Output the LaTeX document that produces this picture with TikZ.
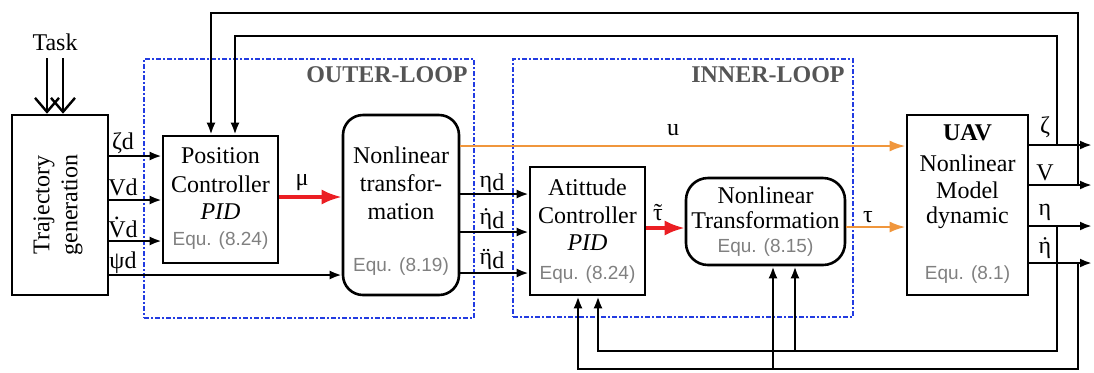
\documentclass[tikz,border=0pt]{standalone}
\usepackage{fontspec}
\setmainfont{Liberation Serif}
\newfontfamily\eqfont{Liberation Sans}
\usetikzlibrary{arrows.meta,calc}
\definecolor{myred}{RGB}{235,30,35}
\definecolor{myorange}{RGB}{240,150,60}
\definecolor{myblue}{RGB}{35,60,225}
\definecolor{lblgray}{RGB}{85,85,85}
\newcommand{\accover}[3]{\ooalign{#2\cr\hidewidth\raisebox{#3}[0pt][0pt]{#1}\hidewidth\cr}}
\begin{document}
\begin{tikzpicture}[x=0.5pt,y=-0.5pt,
  box/.style={draw, line width=1.3pt, inner sep=0pt},
  rbox/.style={box, rounded corners=10pt},
  txt/.style={inner sep=0pt, font=\rmfamily\fontsize{12}{14}\selectfont},
  eqt/.style={inner sep=0pt, font=\eqfont\fontsize{9.5}{11}\selectfont, text=gray},
  lbl/.style={inner sep=0pt, font=\rmfamily\fontsize{12}{14}\selectfont},
  looplbl/.style={inner sep=0pt, anchor=east, font=\rmfamily\bfseries\fontsize{12}{14}\selectfont, text=lblgray},
  arr/.style={line width=1.2pt, -{Latex[length=6pt,width=4.5pt]}},
  taskarr/.style={line width=1.2pt, -{Straight Barb[length=7pt,width=12pt]}},
  redarr/.style={myred, line width=1.6pt, -{Latex[length=10pt,width=7.5pt]}},
  orarr/.style={myorange, line width=1.3pt, -{Latex[length=8pt,width=5.5pt]}},
  loopbox/.style={draw=myblue, line width=1.1pt, dash pattern=on 2.5pt off 1pt on 1pt off 1pt, inner sep=0pt}
]
\useasboundingbox (0,0) rectangle (1094,372);

% loop frames
\node[loopbox, minimum width=165pt, minimum height=129.5pt] (outer) at (309,188.5) {};
\node[loopbox, minimum width=170pt, minimum height=129pt] (inner) at (683,188) {};
\node[looplbl] (outerl) at (468,75) {OUTER-LOOP};
\node[looplbl] (innerl) at (845,75) {INNER-LOOP};

% blocks
\node[box, minimum width=48pt, minimum height=90pt] (traj) at (60,205) {};
\node[txt, rotate=90, align=center] (trajt) at (58,205) {Trajectory\\generation};

\node[box, minimum width=57.5pt, minimum height=63.5pt] (pos) at (220.5,199.5) {};
\node[txt] (pos1) at (220.5,156) {Position};
\node[txt] (pos2) at (220.5,184) {Controller};
\node[txt] (pos3) at (220.5,212) {\textit{PID}};
\node[eqt] (pos4) at (220.5,241) {Equ. (8.24)};

\node[rbox, minimum width=58pt, minimum height=90pt] (nlt) at (401,205) {};
\node[txt] (nlt1) at (401,155) {Nonlinear};
\node[txt] (nlt2t) at (401,183) {transfor-};
\node[txt] (nlt3) at (401,212) {mation};
\node[eqt] (nlt4) at (401,267) {Equ. (8.19)};

\node[box, minimum width=57.5pt, minimum height=64pt] (att) at (587.5,231) {};
\node[txt] (att1) at (587.5,187) {Atittude};
\node[txt] (att2) at (587.5,215) {Controller};
\node[txt] (att3) at (587.5,243) {\textit{PID}};
\node[eqt] (att4) at (587.5,275) {Equ. (8.24)};

\node[box, rounded corners=11pt, minimum width=79.5pt, minimum height=43.5pt] (nlt2) at (765.5,221.5) {};
\node[txt] (nltb1) at (765.5,195) {Nonlinear};
\node[txt] (nltb2) at (765.5,220) {Transformation};
\node[eqt] (nltb3) at (765.5,248) {Equ. (8.15)};

\node[box, minimum width=60.5pt, minimum height=90pt] (uav) at (967.5,205) {};
\node[txt] (uav1) at (967.5,133) {\textbf{UAV}};
\node[txt] (uav2) at (967.5,163) {Nonlinear};
\node[txt] (uav3) at (967.5,190) {Model};
\node[txt] (uav4) at (967.5,218) {dynamic};
\node[eqt] (uav5) at (967.5,275) {Equ. (8.1)};

% task
\node[txt] (task) at (55,42) {Task};
\coordinate (t1) at (47,58);
\coordinate (t2) at (63,58);
\draw[taskarr] (t1) -- (t1 |- traj.north);
\draw[taskarr] (t2) -- (t2 |- traj.north);

% trajectory outputs
\draw[arr] (traj.east |- 0,156) -- (pos.west |- 0,156);
\draw[arr] (traj.east |- 0,200) -- (pos.west |- 0,200);
\draw[arr] (traj.east |- 0,241) -- (pos.west |- 0,241);
\draw[arr] (traj.east |- 0,275) -- (nlt.west |- 0,275);
\node[lbl] (lz) at (123,143) {ζd};
\node[lbl] (lv) at (123,187) {Vd};
\node[lbl] (lvd) at (123,229) {\accover{.}{V}{0.72em}d};
\node[lbl] (lp) at (123,263) {ψd};

% mu
\draw[redarr] (pos.east |- 0,197) -- (nlt.west |- 0,197);
\node[lbl] (lmu) at (302,183) {μ};

% eta_d
\draw[arr] (nlt.east |- 0,194) -- (att.west |- 0,194);
\draw[arr] (nlt.east |- 0,232) -- (att.west |- 0,232);
\draw[arr] (nlt.east |- 0,273) -- (att.west |- 0,273);
\node[lbl] (le1) at (492,183) {η\raisebox{-0.3ex}{d}};
\node[lbl] (le2) at (492,220) {\accover{˙}{η}{0pt}\raisebox{-0.3ex}{d}};
\node[lbl] (le3) at (492,260) {\accover{¨}{η}{0pt}\raisebox{-0.3ex}{d}};

% u
\draw[orarr] (nlt.east |- 0,146) -- (uav.west |- 0,146);
\node[lbl] (lu) at (673,130) {u};

% tau tilde
\draw[redarr] (att.east |- 0,228) -- (nlt2.west |- 0,228);
\node[lbl] (ltt) at (658,215) {\accover{˜}{τ}{0pt}};

% tau
\draw[orarr] (nlt2.east |- 0,227) -- (uav.west |- 0,227);
\node[lbl] (lt) at (868,217) {τ};

% outputs
\coordinate (oz) at (1092,145);
\coordinate (ov) at (1092,185);
\coordinate (oe) at (1092,226);
\coordinate (oed) at (1092,263);
\draw[arr] (uav.east |- oz) -- (oz);
\draw[arr] (uav.east |- ov) -- (ov);
\draw[arr] (uav.east |- oe) -- (oe);
\draw[arr] (uav.east |- oed) -- (oed);
\node[lbl] (lzo) at (1045,127) {ζ};
\node[lbl] (lvo) at (1045,173) {V};
\node[lbl] (leo) at (1045,212) {η};
\node[lbl] (ledo) at (1045,248) {\accover{˙}{η}{0pt}};

% feedback
\coordinate (jz) at (1057,145);
\coordinate (jv) at (1078,185);
\coordinate (je) at (1057,226);
\coordinate (jed) at (1078,263);
\draw[arr] (jz) |- (235,36) -- (235,36 |- pos.north);
\draw[arr] (jv) |- (211,13) -- (211,13 |- pos.north);
\draw[arr] (je) |- (598,351) -- (598,351 |- att.south);
\coordinate (be) at (795,351);
\draw[arr] (be) -- (be |- nlt2.south);
\draw[arr] (jed) |- (578,369) -- (578,369 |- att.south);
\coordinate (bed) at (773,369);
\draw[arr] (bed) -- (bed |- nlt2.south);
\end{tikzpicture}
\end{document}
